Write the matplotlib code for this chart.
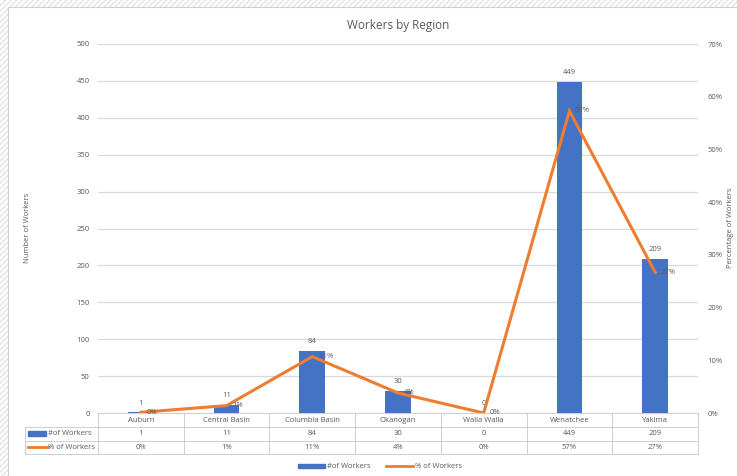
import matplotlib.pyplot as plt
from matplotlib.patches import Rectangle
from matplotlib.lines import Line2D

regions = ["Auburn", "Central Basin", "Columbia Basin", "Okanogan",
           "Walla Walla", "Wenatchee", "Yakima"]
num_workers = [1, 11, 84, 30, 0, 449, 209]
pct_workers = [0.13, 1.4, 10.7, 3.8, 0.0, 57.3, 26.7]

bar_color = "#4472C4"
line_color = "#ED7D31"
text_color = "#595959"
grid_color = "#D9D9D9"

plt.rcParams["font.family"] = ["Open Sans", "DejaVu Sans"]

fig = plt.figure(figsize=(7.37, 4.76), dpi=100)
W, H = 737, 476

# Hatched window edge around the chart area
fig.patches.append(Rectangle((0, 0), 1, 1, transform=fig.transFigure,
                             facecolor="white", edgecolor="#E3E3E3",
                             hatch="//////", linewidth=0, zorder=-3))
fig.patches.append(Rectangle((8 / W, 0), 1, 1 - 7 / H, transform=fig.transFigure,
                             facecolor="white", edgecolor="#D0D0D0",
                             linewidth=0.8, zorder=-2))

ax = fig.add_axes([98 / W, 1 - 413 / H, 600 / W, 369 / H])
ax2 = ax.twinx()
x = list(range(len(regions)))

ax.bar(x, num_workers, width=0.3, color=bar_color, zorder=3)
ax.set_xlim(-0.5, len(regions) - 0.5)
ax.set_ylim(0, 500)
ax.set_yticks(range(0, 501, 50))
ax.yaxis.grid(True, color=grid_color, linewidth=0.9, zorder=0)
ax.set_xticks([])
for s in ax.spines.values():
    s.set_visible(False)
for s in ax2.spines.values():
    s.set_visible(False)
ax.tick_params(axis="y", length=0, pad=6, labelsize=5.5, labelcolor=text_color)

ax2.plot(x, [p / 100 for p in pct_workers], color=line_color, linewidth=2.2,
         solid_joinstyle="miter", zorder=4)
ax2.set_ylim(0, 0.7)
ax2.set_yticks([i / 10 for i in range(8)])
ax2.set_yticklabels([f"{i * 10}%" for i in range(8)])
ax2.tick_params(axis="y", length=0, pad=7, labelsize=5.5, labelcolor=text_color)

# Data labels
for xi, n in zip(x, num_workers):
    ax.annotate(str(n), (xi, n), xytext=(0, 4), textcoords="offset points",
                ha="center", va="bottom", fontsize=5.5, color=text_color, zorder=5)
for xi, p in zip(x, pct_workers):
    ax2.annotate(f"{round(p)}%", (xi, p / 100), xytext=(4, 0), textcoords="offset points",
                 ha="left", va="center", fontsize=5.5, color=text_color, zorder=5)

ax.set_title("Workers by Region", fontsize=8.5, color=text_color, pad=11)
fig.text(28 / W, 1 - 228 / H, "Number of Workers", rotation=90, ha="center",
         va="center", fontsize=5.5, color=text_color)
fig.text(731 / W, 1 - 228 / H, "Percentage of Workers", rotation=90, ha="center",
         va="center", fontsize=5.5, color=text_color)

# Data table under the plot
tr = ax.get_xaxis_transform()
px = 369.0
rows_y = [0, -14 / px, -27.5 / px, -41 / px]
left_x = -0.5 - 73 / (600 / 7)
tcol = "#C8C8C8"
n = len(regions)
for i in range(n + 1):
    ax.add_line(Line2D([i - 0.5, i - 0.5], [rows_y[0], rows_y[3]], transform=tr,
                       color=tcol, linewidth=0.6, clip_on=False))
ax.add_line(Line2D([left_x, left_x], [rows_y[1], rows_y[3]], transform=tr,
                   color=tcol, linewidth=0.6, clip_on=False))
ax.add_line(Line2D([-0.5, n - 0.5], [rows_y[0], rows_y[0]], transform=tr,
                   color=tcol, linewidth=0.6, clip_on=False))
for y in rows_y[1:]:
    ax.add_line(Line2D([left_x, n - 0.5], [y, y], transform=tr,
                       color=tcol, linewidth=0.6, clip_on=False))

def mid(a, b):
    return (a + b) / 2

for i, name in enumerate(regions):
    ax.text(i, mid(rows_y[0], rows_y[1]), name, transform=tr, ha="center",
            va="center", fontsize=5.5, color=text_color)
    ax.text(i, mid(rows_y[1], rows_y[2]), str(num_workers[i]), transform=tr,
            ha="center", va="center", fontsize=5.5, color=text_color)
    ax.text(i, mid(rows_y[2], rows_y[3]), f"{round(pct_workers[i])}%", transform=tr,
            ha="center", va="center", fontsize=5.5, color=text_color)

key_x0 = left_x + 3 / (600 / 7)
key_x1 = left_x + 21 / (600 / 7)
ym = mid(rows_y[1], rows_y[2])
ax.add_patch(Rectangle((key_x0, ym - 2.5 / px), key_x1 - key_x0, 5 / px,
                       transform=tr, color=bar_color, clip_on=False))
ax.text(key_x1 + 2 / (600 / 7), ym, "#of Workers", transform=tr, ha="left",
        va="center", fontsize=5.5, color=text_color)
ym = mid(rows_y[2], rows_y[3])
ax.add_line(Line2D([key_x0, key_x1 + 2 / (600 / 7)], [ym, ym], transform=tr,
                   color=line_color, linewidth=2, clip_on=False))
ax.text(key_x1 + 2 / (600 / 7), ym, "% of Workers", transform=tr, ha="left",
        va="center", fontsize=5.5, color=text_color)

# Legend at the bottom
handles = [Rectangle((0, 0), 1, 1, color=bar_color),
           Line2D([0], [0], color=line_color, linewidth=2)]
fig.legend(handles, ["#of Workers", "% of Workers"], loc="center",
           bbox_to_anchor=(380 / W, 1 - 467 / H), ncol=2, frameon=False,
           fontsize=5.5, labelcolor=text_color, handlelength=3.5,
           handleheight=0.5, columnspacing=2, handletextpad=0.3)

fig.savefig("out.png", dpi=100)
